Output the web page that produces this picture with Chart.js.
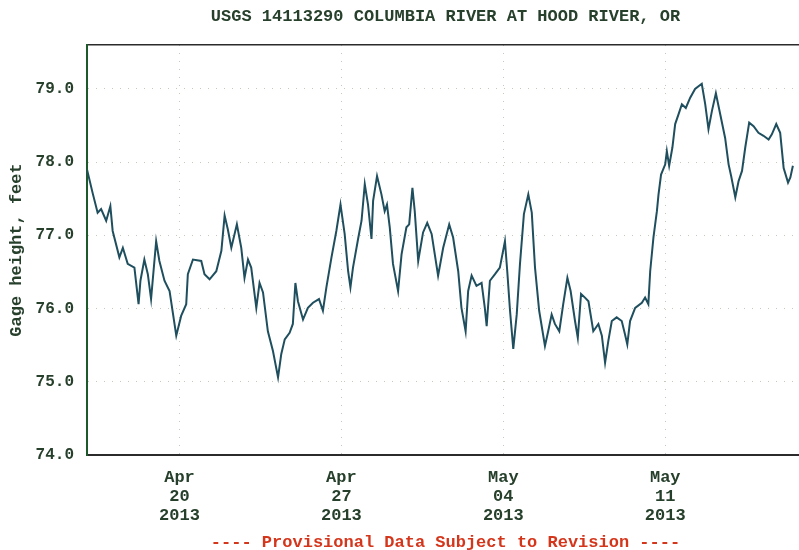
<!DOCTYPE html>
<html>
<head>
<meta charset="utf-8">
<script src="https://cdn.jsdelivr.net/npm/chart.js@4.4.1/dist/chart.umd.min.js"></script>
<style>
  html, body { margin: 0; padding: 0; background: #fff; }
  #wrap { width: 799px; height: 550px; overflow: hidden; position: relative; }
  canvas { position: absolute; left: 0; top: 0; }
</style>
</head>
<body>
<div id="wrap"><canvas id="gage" width="810" height="560"></canvas></div>
<script>
// days after 2013-04-16 00:00
const days = [
  0.00, 0.25, 0.46, 0.61, 0.83, 1.01, 1.11, 1.40, 1.55, 1.76, 2.05, 2.23, 2.31, 2.48, 2.63, 2.77,
  2.99, 3.13, 3.35, 3.57, 3.86, 4.07, 4.29, 4.36, 4.58, 4.94, 5.08, 5.30, 5.59, 5.81, 5.95, 6.09,
  6.24, 6.48, 6.67, 6.81, 6.96, 7.10, 7.32, 7.46, 7.61, 7.82, 8.04, 8.26, 8.40, 8.55, 8.76, 8.90,
  9.01, 9.12, 9.34, 9.55, 9.77, 10.03, 10.20, 10.35, 10.57, 10.78, 10.96, 11.14, 11.29, 11.39, 11.50, 11.72,
  11.87, 12.01, 12.15, 12.30, 12.37, 12.54, 12.73, 12.87, 12.97, 13.09, 13.23, 13.45, 13.60, 13.81, 13.93, 14.07,
  14.17, 14.32, 14.53, 14.71, 14.90, 15.18, 15.40, 15.66, 15.83, 16.05, 16.19, 16.37, 16.48, 16.63, 16.84, 17.06,
  17.20, 17.28, 17.42, 17.64, 17.85, 18.07, 18.17, 18.29, 18.43, 18.58, 18.72, 18.89, 19.08, 19.23, 19.37, 19.55,
  19.80, 19.94, 20.09, 20.23, 20.42, 20.59, 20.77, 20.91, 21.10, 21.22, 21.36, 21.53, 21.68, 21.89, 22.11, 22.26,
  22.40, 22.54, 22.69, 22.90, 23.12, 23.26, 23.36, 23.48, 23.70, 23.99, 24.13, 24.27, 24.35, 24.49, 24.64, 24.71,
  24.82, 25.00, 25.07, 25.17, 25.31, 25.43, 25.57, 25.72, 25.89, 26.08, 26.29, 26.58, 26.73, 26.87, 27.02, 27.19,
  27.38, 27.59, 27.74, 27.85, 28.03, 28.17, 28.32, 28.46, 28.63, 28.82, 29.03, 29.25, 29.47, 29.61, 29.80, 29.97,
  30.12, 30.31, 30.41, 30.52
];
// gage height, feet
const gageFeet = [
  77.90, 77.57, 77.31, 77.36, 77.20, 77.40, 77.06, 76.70, 76.83, 76.61, 76.56, 76.06, 76.38, 76.67, 76.47, 76.13,
  76.92, 76.65, 76.38, 76.24, 75.63, 75.90, 76.06, 76.47, 76.67, 76.65, 76.47, 76.40, 76.51, 76.79, 77.27, 77.08,
  76.83, 77.15, 76.83, 76.42, 76.67, 76.56, 76.01, 76.35, 76.22, 75.69, 75.42, 75.06, 75.38, 75.58, 75.67, 75.79,
  76.35, 76.10, 75.85, 76.01, 76.08, 76.13, 75.97, 76.29, 76.70, 77.06, 77.42, 77.02, 76.51, 76.29, 76.56, 76.95,
  77.20, 77.70, 77.42, 76.95, 77.47, 77.81, 77.56, 77.33, 77.42, 77.11, 76.61, 76.24, 76.74, 77.11, 77.15, 77.65,
  77.33, 76.65, 77.04, 77.17, 77.02, 76.45, 76.83, 77.15, 76.97, 76.51, 76.01, 75.69, 76.24, 76.45, 76.31, 76.35,
  76.01, 75.76, 76.38, 76.47, 76.56, 76.92, 76.51, 75.97, 75.45, 75.92, 76.61, 77.29, 77.56, 77.31, 76.56, 75.97,
  75.49, 75.69, 75.92, 75.79, 75.69, 76.06, 76.42, 76.24, 75.83, 75.60, 76.20, 76.15, 76.10, 75.69, 75.79, 75.63,
  75.26, 75.56, 75.83, 75.88, 75.83, 75.65, 75.51, 75.83, 76.01, 76.08, 76.15, 76.06, 76.51, 76.97, 77.33, 77.56,
  77.83, 77.97, 78.15, 77.95, 78.20, 78.52, 78.65, 78.79, 78.74, 78.88, 79.00, 79.07, 78.79, 78.45, 78.70, 78.94,
  78.65, 78.33, 77.97, 77.81, 77.52, 77.74, 77.88, 78.20, 78.54, 78.49, 78.40, 78.36, 78.31, 78.38, 78.52, 78.40,
  77.92, 77.72, 77.79, 77.95
];

const xTickDays = [4, 11, 18, 25];
const xTickLabels = [['Apr', '20', '2013'], ['Apr', '27', '2013'], ['May', '04', '2013'], ['May', '11', '2013']];
const yTicks = [74, 75, 76, 77, 78, 79];
const titleText = 'USGS 14113290 COLUMBIA RIVER AT HOOD RIVER, OR';
const footText = '---- Provisional Data Subject to Revision ----';

const monoFont = "'Liberation Mono', 'DejaVu Sans Mono', monospace";
const inkColor = '#27402c';
const dotGrid = 'rgba(165,165,140,0.6)';

// title and footnote are centred over the plot area, not the canvas
const plotTexts = {
  id: 'plotTexts',
  afterDraw(chart) {
    const { ctx, chartArea } = chart;
    const cx = (chartArea.left + chartArea.right) / 2;
    ctx.save();
    ctx.font = 'bold 17px ' + monoFont;
    ctx.textAlign = 'center';
    ctx.textBaseline = 'middle';
    ctx.fillStyle = inkColor;
    ctx.fillText(titleText, cx, 17);
    ctx.fillStyle = '#d4361c';
    ctx.fillText(footText, cx, 543);
    ctx.restore();
  }
};

const ctx = document.getElementById('gage').getContext('2d');
new Chart(ctx, {
  type: 'line',
  data: {
    datasets: [{
      data: days.map((d, i) => ({ x: d, y: gageFeet[i] })),
      borderColor: '#1f4f5e',
      borderWidth: 2,
      pointRadius: 0,
      tension: 0,
      fill: false
    }]
  },
  options: {
    responsive: false,
    animation: false,
    devicePixelRatio: 1,
    layout: { padding: { left: 0, right: 6, top: 45, bottom: 27 } },
    plugins: {
      legend: { display: false },
      tooltip: { enabled: false }
    },
    scales: {
      x: {
        type: 'linear',
        min: 0,
        max: 31,
        afterBuildTicks: (scale) => { scale.ticks = xTickDays.map(v => ({ value: v })); },
        afterFit: (scale) => { scale.height = 78; },
        grid: { color: dotGrid, lineWidth: 1, drawTicks: false },
        border: { color: '#2b2b2b', width: 2, dash: [1, 7] },
        ticks: {
          padding: 13,
          color: inkColor,
          maxRotation: 0,
          font: { family: monoFont, size: 17, weight: 'bold', lineHeight: 1.12 },
          callback: (v) => xTickLabels[xTickDays.indexOf(v)] || ''
        }
      },
      x2: {
        type: 'linear',
        position: 'top',
        min: 0,
        max: 31,
        afterFit: (scale) => { scale.height = 0; },
        grid: { display: false, drawTicks: false },
        border: { color: '#2b2b2b', width: 1.5 },
        ticks: { display: false }
      },
      y: {
        min: 74,
        max: 79.6,
        afterBuildTicks: (scale) => { scale.ticks = yTicks.map(v => ({ value: v })); },
        afterFit: (scale) => { scale.width = 87; },
        grid: { color: dotGrid, lineWidth: 1, drawTicks: false },
        border: { color: '#1d5a2b', width: 2, dash: [1, 7] },
        ticks: {
          padding: 13,
          color: inkColor,
          font: { family: monoFont, size: 16, weight: 'bold' },
          callback: (v) => v.toFixed(1)
        },
        title: {
          display: true,
          text: 'Gage height, feet',
          color: inkColor,
          font: { family: monoFont, size: 17, weight: 'bold', lineHeight: 1.2 },
          padding: { top: 7, bottom: 0 }
        }
      }
    }
  },
  plugins: [plotTexts]
});
</script>
</body>
</html>
